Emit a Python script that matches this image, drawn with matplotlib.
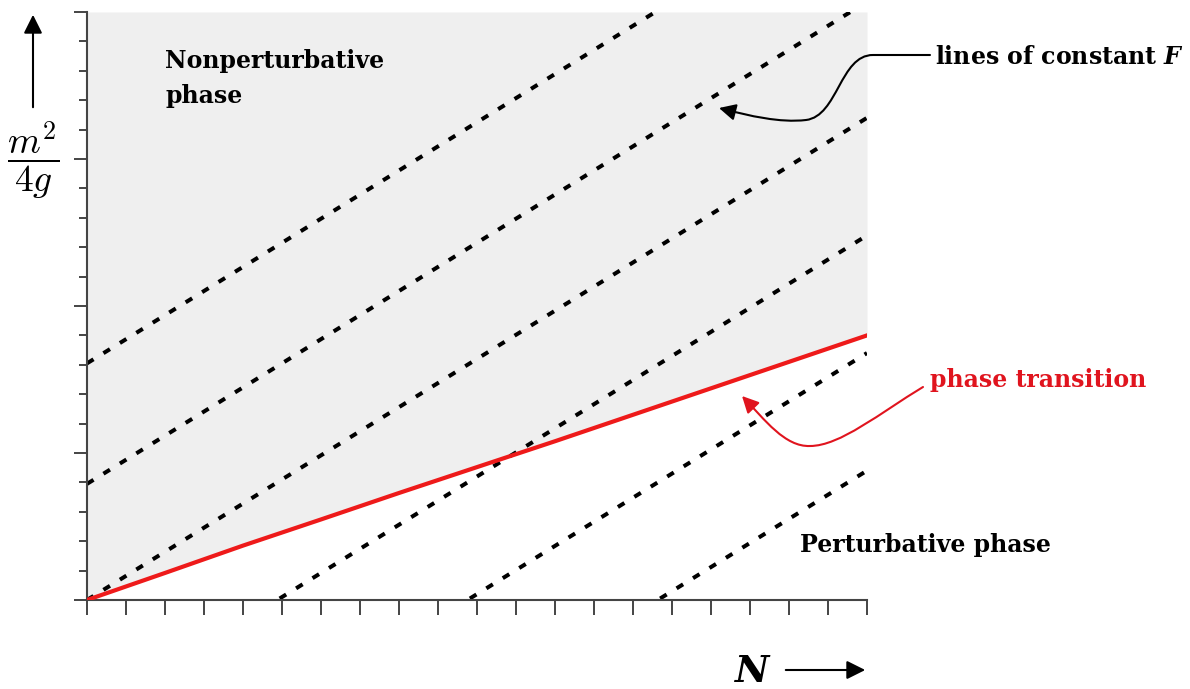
import matplotlib.pyplot as plt
from matplotlib.path import Path
from matplotlib.patches import FancyArrowPatch

plt.rcParams['mathtext.fontset'] = 'cm'

# phase transition curve
N_vals = [0, 2, 4, 6, 8, 10, 12, 14, 16, 18, 20]
m2_4g = [0, 0.92, 1.85, 2.74, 3.64, 4.52, 5.4, 6.3, 7.2, 8.1, 9.0]

# lines of constant F: value at N=0 and at N=20
F_at_0 = [8.05, 3.95, 0.0, -4.0, -8.0, -12.0]
F_at_20 = [24.45, 20.35, 16.4, 12.4, 8.4, 4.4]

W, H = 1190, 689
fig = plt.figure(figsize=(W / 100, H / 100), dpi=100)


def fxy(px, py):
    # pixel position -> figure fraction
    return (px / W, 1 - py / H)


ax = fig.add_axes([87 / W, 1 - 600 / H, 780 / W, 588 / H])
ax.set_xlim(0, 20)
ax.set_ylim(0, 20)

ax.fill_between(N_vals, m2_4g, 20, color='#efefef', lw=0, zorder=0)
for a, b in zip(F_at_0, F_at_20):
    ax.plot([0, 20], [a, b], color='black', lw=2.9, dashes=(1.9, 2.9), zorder=2)
ax.plot(N_vals, m2_4g, color='#ee1a1a', lw=3, zorder=3)

for s in ['top', 'right']:
    ax.spines[s].set_visible(False)
for s in ['left', 'bottom']:
    ax.spines[s].set_color('#444444')
    ax.spines[s].set_linewidth(1.5)

ax.set_xticks(range(21))
ax.set_yticks(range(0, 21, 5))
ax.set_yticks(range(21), minor=True)
ax.tick_params(axis='x', length=11, width=1.4, color='#444444', labelbottom=False)
ax.tick_params(axis='y', which='major', length=9.5, width=1.4, color='#444444', labelleft=False)
ax.tick_params(axis='y', which='minor', length=5.8, width=1.4, color='#444444')

serif = 'DejaVu Serif'
fig.text(*fxy(165, 49), 'Nonperturbative\nphase', ha='left', va='top', family=serif,
         weight='bold', size=17, linespacing=1.6)
fig.text(*fxy(800, 545), 'Perturbative phase', ha='left', va='center', family=serif,
         weight='bold', size=17)
fig.text(*fxy(935, 57), r'lines of constant $\mathbfit{F}$', ha='left', va='center', family=serif,
         weight='bold', size=17, math_fontfamily='dejavuserif')
fig.text(*fxy(930, 380), 'phase transition', ha='left', va='center', family=serif,
         weight='bold', size=17, color='#e0141e')

# axis labels with arrows
fig.text(*fxy(33, 160), r'$\dfrac{m^2}{4g}$', ha='center', va='center', size=27)
ax.annotate('', xy=fxy(33, 12), xytext=fxy(33, 110), xycoords='figure fraction',
            arrowprops=dict(arrowstyle='-|>', color='black', lw=1.5, mutation_scale=28))
fig.text(*fxy(752, 671), 'N', ha='center', va='center', family=serif, weight='bold',
         style='italic', size=27)
ax.annotate('', xy=fxy(868, 670), xytext=fxy(783, 670), xycoords='figure fraction',
            arrowprops=dict(arrowstyle='-|>', color='black', lw=1.5, mutation_scale=28))

# curved pointer arrows
black_pts = [(930, 55), (873, 55), (840, 55), (838, 116), (806, 120),
             (780, 123), (750, 116), (719, 108)]
black_codes = [Path.MOVETO, Path.LINETO] + [Path.CURVE4] * 6
fig.add_artist(FancyArrowPatch(path=Path([fxy(*p) for p in black_pts], black_codes),
                               transform=fig.transFigure, arrowstyle='-|>', color='black',
                               lw=1.5, mutation_scale=25))

red_pts = [(923, 387), (880, 413), (840, 446), (810, 446),
           (785, 447), (765, 420), (742, 396)]
red_codes = [Path.MOVETO] + [Path.CURVE4] * 6
fig.add_artist(FancyArrowPatch(path=Path([fxy(*p) for p in red_pts], red_codes),
                               transform=fig.transFigure, arrowstyle='-|>', color='#e0141e',
                               lw=1.5, mutation_scale=25))

fig.savefig('out.png', dpi=100)
